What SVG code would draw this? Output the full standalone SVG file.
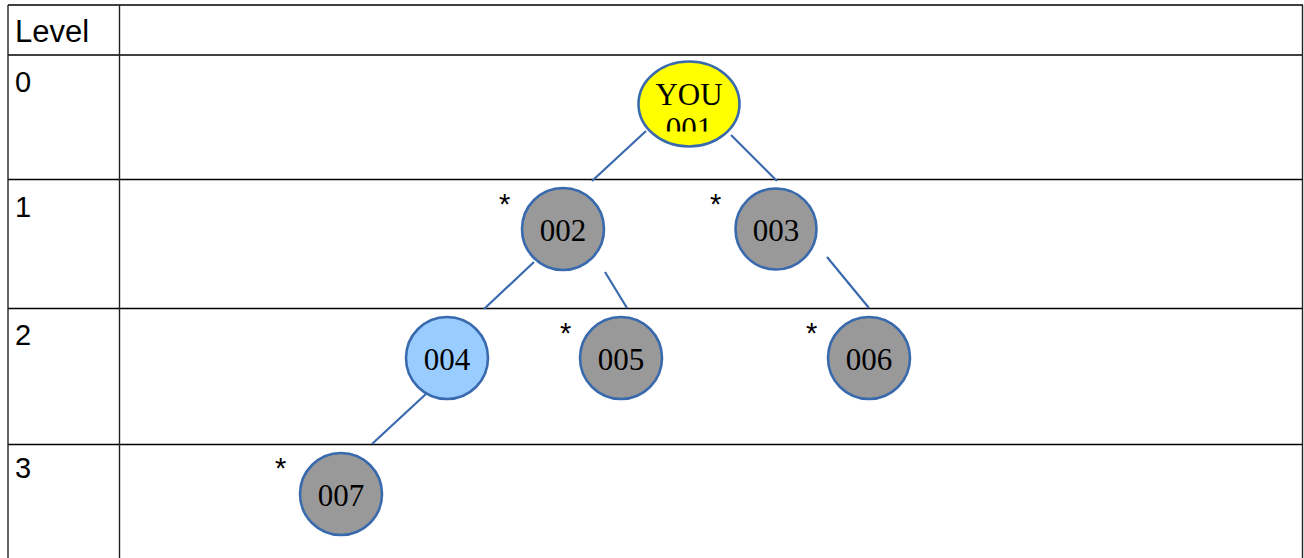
<svg xmlns="http://www.w3.org/2000/svg" width="1304" height="558" viewBox="0 0 1304 558">
<style>
.hl{stroke:#000;stroke-width:1.6}
.vl{stroke:#222;stroke-width:1.4}
.lvl{font-family:"Liberation Sans",Arial,sans-serif;font-size:29px;fill:#000}
.ast{font-family:"Liberation Sans",Arial,sans-serif;font-size:29px;fill:#000}
.node{stroke:#3A6AAE;stroke-width:2.6}
.gray{fill:#999999}
.blue{fill:#99CCFF}
.yellow{fill:#FFFF00}
.lbl{font-family:"Liberation Serif","Times New Roman",serif;font-size:31px;fill:#000;text-anchor:middle}
.conn line{stroke:#3A6AAE;stroke-width:2.2}
</style>
<defs>
<clipPath id="youclip"><rect x="630" y="60" width="120" height="71.5"/></clipPath>
</defs>
<rect width="1304" height="558" fill="#fff"/>
<g id="table">
<line class="hl" x1="8" y1="5" x2="1303" y2="5"/>
<line class="hl" x1="8" y1="55" x2="1303" y2="55"/>
<line class="hl" x1="8" y1="179.5" x2="1303" y2="179.5"/>
<line class="hl" x1="8" y1="308.5" x2="1303" y2="308.5"/>
<line class="hl" x1="8" y1="444.5" x2="1303" y2="444.5"/>
<line class="vl" x1="8" y1="5" x2="8" y2="558"/>
<line class="vl" x1="119.5" y1="5" x2="119.5" y2="558"/>
<line class="vl" x1="1302.5" y1="5" x2="1302.5" y2="558"/>
<text class="lvl" x="15" y="42" style="font-size:31px">Level</text>
<text class="lvl" x="15" y="92">0</text>
<text class="lvl" x="15" y="217">1</text>
<text class="lvl" x="15" y="345">2</text>
<text class="lvl" x="15" y="478">3</text>
</g>
<g id="connectors" class="conn">
<line x1="646" y1="131" x2="592" y2="181"/>
<line x1="731" y1="135" x2="777" y2="181"/>
<line x1="534" y1="262" x2="484" y2="309"/>
<line x1="605" y1="272" x2="627" y2="308"/>
<line x1="827" y1="257" x2="869" y2="308"/>
<line x1="427" y1="393" x2="372" y2="444"/>
</g>
<g id="node001">
<ellipse class="node yellow" cx="689" cy="104" rx="50.5" ry="42.5"/>
<g clip-path="url(#youclip)">
<text class="lbl" x="689" y="105">YOU</text>
<text class="lbl" x="689" y="139">001</text>
</g>
</g>
<g id="node002">
<circle class="node gray" cx="563" cy="229" r="41"/>
<text class="lbl" x="563" y="240.5">002</text>
<text class="ast" x="499" y="214">*</text>
</g>
<g id="node003">
<circle class="node gray" cx="776" cy="229" r="40.5"/>
<text class="lbl" x="776" y="240.5">003</text>
<text class="ast" x="710" y="214">*</text>
</g>
<g id="node004">
<circle class="node blue" cx="447" cy="358" r="41"/>
<text class="lbl" x="447" y="370">004</text>
</g>
<g id="node005">
<circle class="node gray" cx="621" cy="358" r="41"/>
<text class="lbl" x="621" y="370">005</text>
<text class="ast" x="560" y="343">*</text>
</g>
<g id="node006">
<circle class="node gray" cx="869" cy="358" r="41"/>
<text class="lbl" x="869" y="370">006</text>
<text class="ast" x="806" y="343">*</text>
</g>
<g id="node007">
<circle class="node gray" cx="341" cy="494" r="41"/>
<text class="lbl" x="341" y="506">007</text>
<text class="ast" x="275" y="478">*</text>
</g>
</svg>
